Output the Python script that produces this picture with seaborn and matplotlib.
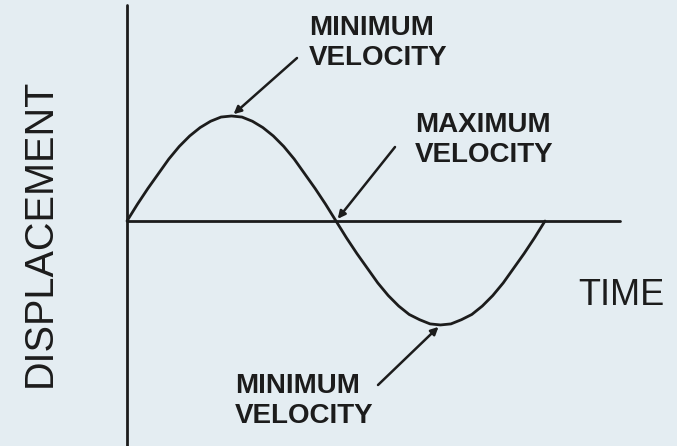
import matplotlib
matplotlib.use("Agg")
import matplotlib.pyplot as plt
import seaborn as sns
import pandas as pd

# Curve (time in quarter-periods, displacement in amplitudes)
time = [0.0, 0.1, 0.2, 0.3, 0.4, 0.5, 0.6, 0.7, 0.8, 0.9,
        1.0, 1.1, 1.2, 1.3, 1.4, 1.5, 1.6, 1.7, 1.8, 1.9,
        2.0, 2.1, 2.2, 2.3, 2.4, 2.5, 2.6, 2.7, 2.8, 2.9,
        3.0, 3.1, 3.2, 3.3, 3.4, 3.5, 3.6, 3.7, 3.8, 3.9, 4.0]
displacement = [0.0, 0.16, 0.31, 0.45, 0.59, 0.71, 0.81, 0.89, 0.95, 0.99,
                1.0, 0.99, 0.95, 0.89, 0.81, 0.71, 0.59, 0.45, 0.31, 0.16,
                0.0, -0.16, -0.31, -0.45, -0.59, -0.71, -0.81, -0.89, -0.94, -0.98,
                -0.99, -0.98, -0.94, -0.89, -0.81, -0.71, -0.59, -0.45, -0.31, -0.16, 0.0]

# Annotated points: (time, displacement) of the marked spots
point_labels = ["MINIMUM\nVELOCITY", "MAXIMUM\nVELOCITY", "MINIMUM\nVELOCITY"]
point_times = [1.0, 2.0, 3.0]
point_disp = [1.0, 0.0, -0.99]

x_label = "TIME"
y_label = "DISPLACEMENT"

df = pd.DataFrame({"time": time, "displacement": displacement})

sns.set_style("white")
plt.rcParams["font.family"] = ["Liberation Sans", "DejaVu Sans"]

bg = "#e4edf2"
ink = "#1c1c1c"

fig = plt.figure(figsize=(6.77, 4.46), dpi=100)
fig.patch.set_facecolor(bg)
ax = fig.add_axes([0, 0, 1, 1])
ax.set_facecolor(bg)

# pixel -> data mapping (origin of the drawn axes sits at pixel (127, 221))
sx, sy = 104.5, 105.0
ax.set_xlim(-127 / sx, (677 - 127) / sx)
ax.set_ylim(-(446 - 221) / sy, 221 / sy)


def px(x, y):
    return (x - 127) / sx, (221 - y) / sy


sns.lineplot(data=df, x="time", y="displacement", ax=ax, color=ink, lw=2.0, legend=False)

# axes lines
ax.axvline(0, ymin=0, ymax=(446 - 5) / 446, color=ink, lw=2.0)
ax.axhline(0, xmin=127 / 677, xmax=620 / 677, color=ink, lw=2.0)

ax.set_axis_off()

# arrow tails and text anchors in pixels
tails = [(297, 58), (395, 147), (378, 385)]
text_pos = [(309, 15), (415, 112), (235, 373)]

for lab, t, d, tail, tp in zip(point_labels, point_times, point_disp, tails, text_pos):
    ax.annotate("", xy=(t, d), xytext=px(*tail),
                arrowprops=dict(arrowstyle="-|>", color=ink, lw=1.8,
                                mutation_scale=11, shrinkA=0, shrinkB=2))
    ax.text(*px(*tp), lab, ha="left", va="top", fontsize=20, fontweight="bold",
            color=ink, linespacing=1.2)

ax.text(*px(578, 305), x_label, ha="left", va="baseline", fontsize=26, color=ink)
ax.text(*px(21, 233), y_label, ha="left", va="center", rotation=90, fontsize=28.5, color=ink)

fig.savefig("out.png", dpi=100, facecolor=bg)
